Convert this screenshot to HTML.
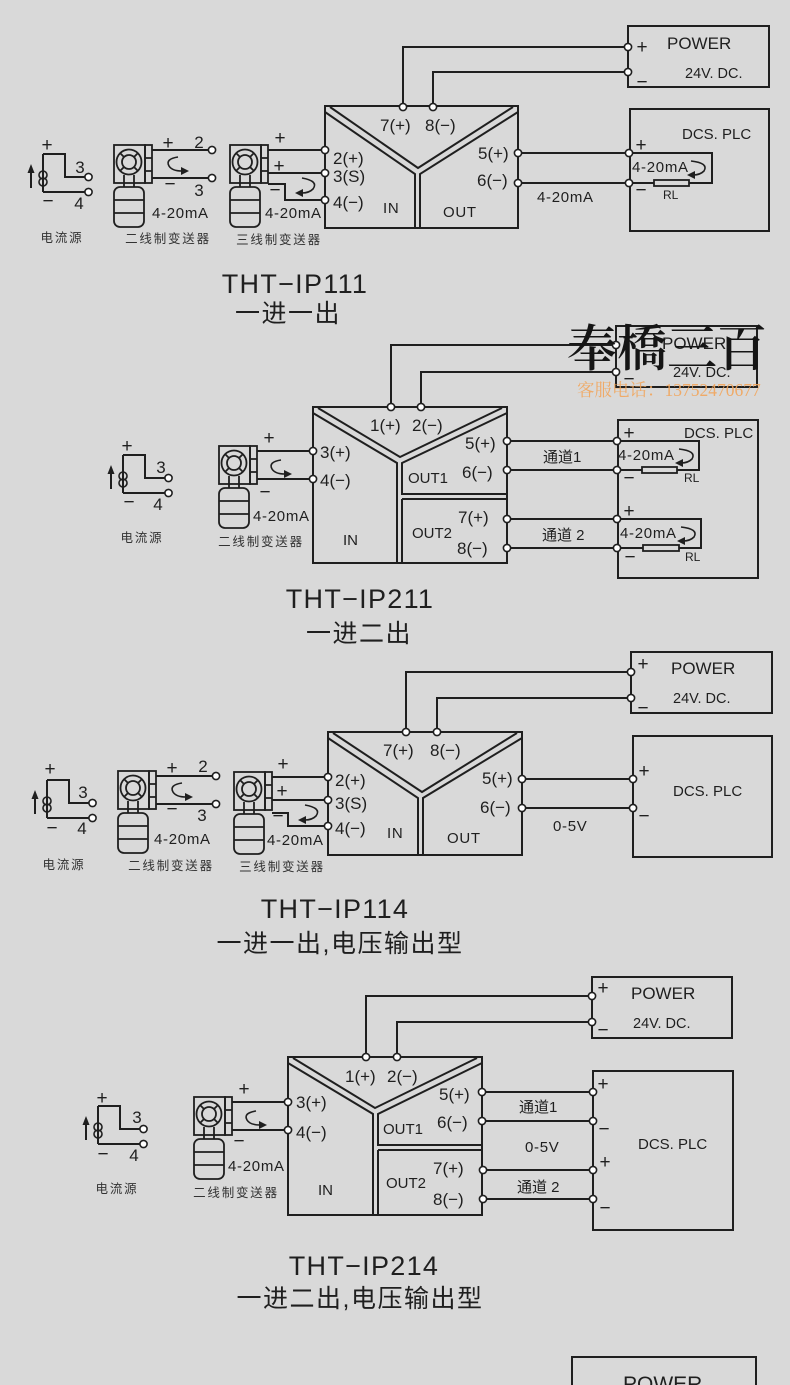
<!DOCTYPE html>
<html><head><meta charset="utf-8"><style>
html,body{margin:0;padding:0;background:#d9d9d9;}
svg{display:block}
.w{fill:none;stroke:#1f1f1f;stroke-width:2}
.ic{fill:none;stroke:#1f1f1f;stroke-width:1.8}
.tc{fill:#fff;stroke:#1f1f1f;stroke-width:1.6}
.fb{fill:#1f1f1f;stroke:none}
text{font-family:"Liberation Sans","Noto Sans CJK SC",sans-serif;fill:#1f1f1f}
.m{text-anchor:middle}
.l{font-size:17px}
.p{font-size:19px}
.s{font-size:15px;letter-spacing:0.7px}
.cn{font-size:12.5px;letter-spacing:1.8px;fill:#333}
.tt{font-size:27px;letter-spacing:1.3px}
.tc2{font-family:"Liberation Sans","Noto Sans CJK SC",sans-serif;font-size:25px;letter-spacing:1.5px}
</style></head><body>
<svg width="790" height="1385" viewBox="0 0 790 1385" xmlns="http://www.w3.org/2000/svg">
<defs>
<g id="tx" class="ic">
<rect x="1" y="0" width="31" height="38"/>
<rect x="32" y="0" width="7" height="38"/>
<path d="M32 13H39M32 26H39"/>
<circle cx="16" cy="17" r="12.5"/>
<circle cx="16" cy="17" r="7"/>
<path d="M7 8L11 12M25 8L21 12M7 26L11 22M25 26L21 22"/>
<path d="M11 30V42M21 30V42"/>
<rect x="1" y="42" width="30" height="40" rx="6"/>
<path d="M1 55H31M1 68H31"/>
</g>
<g id="src">
<path class="w" d="M0 0H22V23H42M0 38H42M0 0V38"/>
<circle cx="0" cy="21" r="4" fill="none" stroke="#1f1f1f" stroke-width="1.6"/>
<circle cx="0" cy="28" r="4" fill="none" stroke="#1f1f1f" stroke-width="1.6"/>
<path class="w" d="M-12 34V17" stroke-width="2.4"/>
<polygon class="fb" points="-12,10 -15.5,19 -8.5,19"/>
<circle class="tc" cx="45.5" cy="23" r="3.6"/>
<circle class="tc" cx="45.5" cy="38" r="3.6"/>
</g>
<g id="arr2">
<path fill="none" stroke="#1f1f1f" stroke-width="1.6" d="M65 12Q52 14 56 21Q59 26 69 26"/>
<polygon class="fb" points="76,26 68,22 68,30"/>
</g>
<g id="arr3">
<path fill="none" stroke="#1f1f1f" stroke-width="1.6" d="M73 33Q90 36 84 44Q80 48 73 48"/>
<polygon class="fb" points="66,48 74,44 74,52"/>
</g>
</defs>

<!-- ================= SECTION 1 ================= -->
<use href="#src" x="43" y="154"/>
<text class="m p" x="47" y="151">+</text>
<text class="m l" x="80" y="173">3</text>
<text class="m p" x="48" y="207">−</text>
<text class="m l" x="79" y="209">4</text>
<text class="m cn" x="62" y="242">电流源</text>

<use href="#tx" x="113" y="145"/>
<use href="#arr2" x="113" y="145"/>
<path class="w" d="M152 150H208.5M152 178H208.5"/>
<circle class="tc" cx="212" cy="150" r="3.6"/>
<circle class="tc" cx="212" cy="178" r="3.6"/>
<text class="m p" x="168" y="149">+</text>
<text class="m l" x="199" y="148">2</text>
<text class="m p" x="170" y="190">−</text>
<text class="m l" x="199" y="196">3</text>
<text class="s" x="152" y="218">4-20mA</text>
<text class="m cn" x="168" y="243">二线制变送器</text>

<use href="#tx" x="229" y="145"/>
<use href="#arr3" x="229" y="145"/>
<path class="w" d="M268 150H321.5M268 173H321.5M268 184H285V200H321.5"/>
<text class="m p" x="280" y="144">+</text>
<text class="m p" x="279" y="172">+</text>
<text class="m p" x="275" y="196">−</text>
<text class="s" x="265" y="218">4-20mA</text>
<text class="m cn" x="279" y="244">三线制变送器</text>

<rect class="w" x="325" y="106" width="193" height="122"/>
<path class="w" d="M330 107L418 168L513 107M325 112L415 174V228M518 112L420 174V228"/>
<path class="w" d="M403 103.5V47H624.5M433 103.5V72H624.5M521.5 153H625.5M521.5 183H625.5"/>
<circle class="tc" cx="325" cy="150" r="3.6"/>
<circle class="tc" cx="325" cy="173" r="3.6"/>
<circle class="tc" cx="325" cy="200" r="3.6"/>
<circle class="tc" cx="403" cy="107" r="3.6"/>
<circle class="tc" cx="433" cy="107" r="3.6"/>
<circle class="tc" cx="518" cy="153" r="3.6"/>
<circle class="tc" cx="518" cy="183" r="3.6"/>
<text class="l" x="380" y="131">7(+)</text>
<text class="l" x="425" y="131">8(−)</text>
<text class="l" x="333" y="164">2(+)</text>
<text class="l" x="333" y="182">3(S)</text>
<text class="l" x="333" y="208">4(−)</text>
<text class="l" x="478" y="159">5(+)</text>
<text class="l" x="477" y="186">6(−)</text>
<text class="s" x="537" y="202">4-20mA</text>
<text class="s" x="383" y="213">IN</text>
<text class="s" x="443" y="217">OUT</text>

<rect class="w" x="628" y="26" width="141" height="61"/>
<circle class="tc" cx="628" cy="47" r="3.6"/>
<circle class="tc" cx="628" cy="72" r="3.6"/>
<text class="m p" x="642" y="53">+</text>
<text class="l" x="667" y="49">POWER</text>
<text style="font-size:14.5px" x="685" y="78">24V. DC.</text>
<text class="m p" x="642" y="88">−</text>

<rect class="w" x="630" y="109" width="139" height="122"/>
<text style="font-size:15px" x="682" y="139">DCS. PLC</text>
<text class="m p" x="641" y="151">+</text>
<text class="m p" x="641" y="196">−</text>
<g transform="translate(629,153)">
<path class="w" d="M3.5 0H83V30H60M25 30H3.5"/>
<rect x="25" y="27" width="35" height="6" fill="none" stroke="#1f1f1f" stroke-width="1.8"/>
<path fill="none" stroke="#1f1f1f" stroke-width="1.6" d="M62 8Q80 10 75 18Q71 22 64 22"/>
<polygon class="fb" points="58,22 66,18 66,26"/>
<text class="s" x="3" y="19">4-20mA</text>
<text style="font-size:12px" x="34" y="46">RL</text>
</g>
<circle class="tc" cx="629" cy="153" r="3.6"/>
<circle class="tc" cx="629" cy="183" r="3.6"/>

<text class="m tt" x="295" y="293">THT−IP111</text>
<text class="m tc2" x="288" y="322">一进一出</text>

<!-- ================= SECTION 2 ================= -->
<use href="#src" x="123" y="455"/>
<text class="m p" x="127" y="452">+</text>
<text class="m l" x="161" y="473">3</text>
<text class="m p" x="129" y="508">−</text>
<text class="m l" x="158" y="510">4</text>
<text class="m cn" x="142" y="542">电流源</text>

<use href="#tx" x="218" y="446"/>
<use href="#arr2" x="216" y="448"/>
<path class="w" d="M257 451H309.5M257 479H309.5"/>
<text class="m p" x="269" y="444">+</text>
<text class="m p" x="265" y="498">−</text>
<text class="s" x="253" y="521">4-20mA</text>
<text class="m cn" x="261" y="546">二线制变送器</text>

<rect class="w" x="313" y="407" width="194" height="156"/>
<path class="w" d="M318 408L400 457L502 408M313 413L397 463V563M507 413L402 463V494H507M402 499H507M402 499V563"/>
<path class="w" d="M391 403.5V345H612.5M421 403.5V372H612.5M510.5 441H613.5M510.5 470H613.5M510.5 519H613.5M510.5 548H613.5"/>
<circle class="tc" cx="313" cy="451" r="3.6"/>
<circle class="tc" cx="313" cy="479" r="3.6"/>
<circle class="tc" cx="391" cy="407" r="3.6"/>
<circle class="tc" cx="421" cy="407" r="3.6"/>
<circle class="tc" cx="507" cy="441" r="3.6"/>
<circle class="tc" cx="507" cy="470" r="3.6"/>
<circle class="tc" cx="507" cy="519" r="3.6"/>
<circle class="tc" cx="507" cy="548" r="3.6"/>
<text class="l" x="370" y="431">1(+)</text>
<text class="l" x="412" y="431">2(−)</text>
<text class="l" x="320" y="458">3(+)</text>
<text class="l" x="320" y="486">4(−)</text>
<text class="l" x="465" y="449">5(+)</text>
<text class="l" x="462" y="478">6(−)</text>
<text style="font-size:15px" x="408" y="483">OUT1</text>
<text class="l" x="458" y="523">7(+)</text>
<text class="l" x="457" y="554">8(−)</text>
<text style="font-size:15px" x="412" y="538">OUT2</text>
<text style="font-size:15px" x="343" y="545">IN</text>
<text style="font-size:15px" x="543" y="462">通道1</text>
<text style="font-size:15px" x="542" y="540">通道 2</text>

<rect class="w" x="616" y="326" width="141" height="61"/>
<circle class="tc" cx="616" cy="345" r="3.6"/>
<circle class="tc" cx="616" cy="372" r="3.6"/>
<text class="m p" x="628" y="344">+</text>
<text class="l" x="662" y="349">POWER</text>
<text style="font-size:14.5px" x="673" y="377">24V. DC.</text>
<text class="m p" x="629" y="385">−</text>

<rect class="w" x="618" y="420" width="140" height="158"/>
<text style="font-size:15px" x="684" y="438">DCS. PLC</text>
<text class="m p" x="629" y="439">+</text>
<text class="m p" x="629" y="484">−</text>
<text class="m p" x="629" y="517">+</text>
<text class="m p" x="630" y="563">−</text>
<g transform="translate(617,441)">
<path class="w" d="M3.5 0H82V29H60M25 29H3.5"/>
<rect x="25" y="26" width="35" height="6" fill="none" stroke="#1f1f1f" stroke-width="1.8"/>
<path fill="none" stroke="#1f1f1f" stroke-width="1.6" d="M62 8Q80 10 75 18Q71 22 64 22"/>
<polygon class="fb" points="58,22 66,18 66,26"/>
<text class="s" x="1" y="19">4-20mA</text>
<text style="font-size:12px" x="67" y="41">RL</text>
</g>
<g transform="translate(617,519)">
<path class="w" d="M3.5 0H84V29H62M26 29H3.5"/>
<rect x="26" y="26" width="36" height="6" fill="none" stroke="#1f1f1f" stroke-width="1.8"/>
<path fill="none" stroke="#1f1f1f" stroke-width="1.6" d="M64 8Q82 10 77 18Q73 22 66 22"/>
<polygon class="fb" points="60,22 68,18 68,26"/>
<text class="s" x="3" y="19">4-20mA</text>
<text style="font-size:12px" x="68" y="42">RL</text>
</g>
<circle class="tc" cx="617" cy="441" r="3.6"/>
<circle class="tc" cx="617" cy="470" r="3.6"/>
<circle class="tc" cx="617" cy="519" r="3.6"/>
<circle class="tc" cx="617" cy="548" r="3.6"/>

<!-- watermark -->
<text x="567" y="366" style="font-family:'Noto Serif CJK SC','Noto Sans CJK SC',serif;font-size:50px;font-weight:600;fill:#151515">奉橋三百</text>
<text x="577" y="396" style="font-family:'Liberation Serif','Noto Serif CJK SC',serif;font-size:17.5px;fill:#f2a65c;opacity:0.9">客服电话：13752470677</text>

<text class="m tt" x="360" y="608">THT−IP211</text>
<text class="m tc2" x="359" y="642">一进二出</text>

<!-- ================= SECTION 3 ================= -->
<use href="#src" x="47" y="780"/>
<text class="m p" x="50" y="775">+</text>
<text class="m l" x="83" y="798">3</text>
<text class="m p" x="52" y="834">−</text>
<text class="m l" x="82" y="834">4</text>
<text class="m cn" x="64" y="869">电流源</text>

<use href="#tx" x="117" y="771"/>
<use href="#arr2" x="117" y="771"/>
<path class="w" d="M156 776H212.5M156 804H212.5"/>
<circle class="tc" cx="216" cy="776" r="3.6"/>
<circle class="tc" cx="216" cy="804" r="3.6"/>
<text class="m p" x="172" y="774">+</text>
<text class="m l" x="203" y="772">2</text>
<text class="m p" x="172" y="815">−</text>
<text class="m l" x="202" y="821">3</text>
<text class="s" x="154" y="844">4-20mA</text>
<text class="m cn" x="171" y="870">二线制变送器</text>

<use href="#tx" x="233" y="772"/>
<use href="#arr3" x="232" y="772"/>
<path class="w" d="M272 777H324.5M272 800H324.5M272 813H288V826H324.5"/>
<text class="m p" x="283" y="770">+</text>
<text class="m p" x="282" y="797">+</text>
<text class="m p" x="278" y="822">−</text>
<text class="s" x="267" y="845">4-20mA</text>
<text class="m cn" x="282" y="871">三线制变送器</text>

<rect class="w" x="328" y="732" width="194" height="123"/>
<path class="w" d="M333 733L422 792L517 733M328 738L418 798V855M522 738L423 798V855"/>
<path class="w" d="M406 728.5V672H627.5M437 728.5V698H627.5M525.5 779H629.5M525.5 808H629.5"/>
<circle class="tc" cx="328" cy="777" r="3.6"/>
<circle class="tc" cx="328" cy="800" r="3.6"/>
<circle class="tc" cx="328" cy="826" r="3.6"/>
<circle class="tc" cx="406" cy="732" r="3.6"/>
<circle class="tc" cx="437" cy="732" r="3.6"/>
<circle class="tc" cx="522" cy="779" r="3.6"/>
<circle class="tc" cx="522" cy="808" r="3.6"/>
<text class="l" x="383" y="756">7(+)</text>
<text class="l" x="430" y="756">8(−)</text>
<text class="l" x="335" y="786">2(+)</text>
<text class="l" x="335" y="809">3(S)</text>
<text class="l" x="335" y="834">4(−)</text>
<text class="l" x="482" y="784">5(+)</text>
<text class="l" x="480" y="813">6(−)</text>
<text class="s" x="553" y="831">0-5V</text>
<text class="s" x="387" y="838">IN</text>
<text class="s" x="447" y="843">OUT</text>

<rect class="w" x="631" y="652" width="141" height="61"/>
<circle class="tc" cx="631" cy="672" r="3.6"/>
<circle class="tc" cx="631" cy="698" r="3.6"/>
<text class="m p" x="643" y="670">+</text>
<text class="l" x="671" y="674">POWER</text>
<text style="font-size:14.5px" x="673" y="703">24V. DC.</text>
<text class="m p" x="643" y="714">−</text>

<rect class="w" x="633" y="736" width="139" height="121"/>
<circle class="tc" cx="633" cy="779" r="3.6"/>
<circle class="tc" cx="633" cy="808" r="3.6"/>
<text class="m p" x="644" y="777">+</text>
<text style="font-size:15px" x="673" y="796">DCS. PLC</text>
<text class="m p" x="644" y="822">−</text>

<text class="m tt" x="335" y="918">THT−IP114</text>
<text class="m tc2" x="340" y="952">一进一出,电压输出型</text>

<!-- ================= SECTION 4 ================= -->
<use href="#src" x="98" y="1106"/>
<text class="m p" x="102" y="1104">+</text>
<text class="m l" x="137" y="1123">3</text>
<text class="m p" x="103" y="1160">−</text>
<text class="m l" x="134" y="1161">4</text>
<text class="m cn" x="117" y="1193">电流源</text>

<use href="#tx" x="193" y="1097"/>
<use href="#arr2" x="191" y="1099"/>
<path class="w" d="M232 1102H284.5M232 1130H284.5"/>
<text class="m p" x="244" y="1095">+</text>
<text class="m p" x="239" y="1147">−</text>
<text class="s" x="228" y="1171">4-20mA</text>
<text class="m cn" x="236" y="1197">二线制变送器</text>

<rect class="w" x="288" y="1057" width="194" height="158"/>
<path class="w" d="M293 1058L375 1108L477 1058M288 1063L373 1114V1215M482 1063L378 1114V1145H482M378 1150H482M378 1150V1215"/>
<path class="w" d="M366 1053.5V996H588.5M397 1053.5V1022H588.5M485.5 1092H589.5M485.5 1121H589.5M486.5 1170H589.5M486.5 1199H589.5"/>
<circle class="tc" cx="288" cy="1102" r="3.6"/>
<circle class="tc" cx="288" cy="1130" r="3.6"/>
<circle class="tc" cx="366" cy="1057" r="3.6"/>
<circle class="tc" cx="397" cy="1057" r="3.6"/>
<circle class="tc" cx="482" cy="1092" r="3.6"/>
<circle class="tc" cx="482" cy="1121" r="3.6"/>
<circle class="tc" cx="483" cy="1170" r="3.6"/>
<circle class="tc" cx="483" cy="1199" r="3.6"/>
<text class="l" x="345" y="1082">1(+)</text>
<text class="l" x="387" y="1082">2(−)</text>
<text class="l" x="296" y="1108">3(+)</text>
<text class="l" x="296" y="1138">4(−)</text>
<text class="l" x="439" y="1100">5(+)</text>
<text class="l" x="437" y="1128">6(−)</text>
<text style="font-size:15px" x="383" y="1134">OUT1</text>
<text class="l" x="433" y="1174">7(+)</text>
<text class="l" x="433" y="1205">8(−)</text>
<text style="font-size:15px" x="386" y="1188">OUT2</text>
<text style="font-size:15px" x="318" y="1195">IN</text>
<text style="font-size:15px" x="519" y="1112">通道1</text>
<text class="s" x="525" y="1152">0-5V</text>
<text style="font-size:15px" x="517" y="1192">通道 2</text>

<rect class="w" x="592" y="977" width="140" height="61"/>
<circle class="tc" cx="592" cy="996" r="3.6"/>
<circle class="tc" cx="592" cy="1022" r="3.6"/>
<text class="m p" x="603" y="994">+</text>
<text class="l" x="631" y="999">POWER</text>
<text style="font-size:14.5px" x="633" y="1028">24V. DC.</text>
<text class="m p" x="603" y="1036">−</text>

<rect class="w" x="593" y="1071" width="140" height="159"/>
<circle class="tc" cx="593" cy="1092" r="3.6"/>
<circle class="tc" cx="593" cy="1121" r="3.6"/>
<circle class="tc" cx="593" cy="1170" r="3.6"/>
<circle class="tc" cx="593" cy="1199" r="3.6"/>
<text class="m p" x="603" y="1090">+</text>
<text class="m p" x="604" y="1135">−</text>
<text class="m p" x="605" y="1168">+</text>
<text class="m p" x="605" y="1214">−</text>
<text style="font-size:15px" x="638" y="1149">DCS. PLC</text>

<text class="m tt" x="364" y="1275">THT−IP214</text>
<text class="m tc2" x="360" y="1307">一进二出,电压输出型</text>

<!-- bottom partial -->
<rect class="w" x="572" y="1357" width="184" height="60"/>
<text x="623" y="1391" style="font-size:21px">POWER</text>
</svg>
</body></html>
